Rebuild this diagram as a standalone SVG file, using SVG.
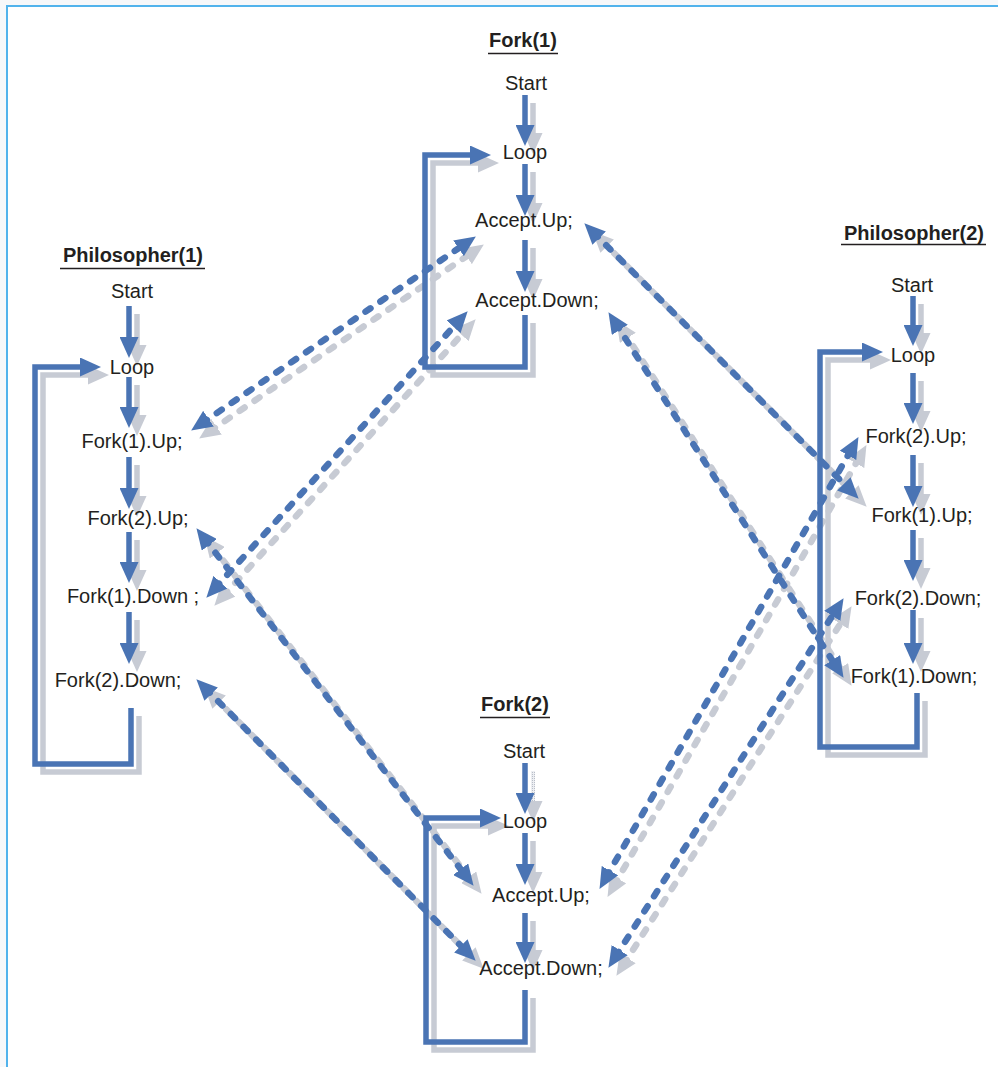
<svg xmlns="http://www.w3.org/2000/svg" width="998" height="1067" viewBox="0 0 998 1067">
<style>
.b{fill:none;stroke:#4a74b4;stroke-width:5.5}
.g{fill:none;stroke:#c7cbd4;stroke-width:5.5}
.b.a{marker-end:url(#ab)}
.g.a{marker-end:url(#ag)}
.d{stroke-width:6.5;stroke-dasharray:6 12;stroke-linecap:round}
.b.d{marker-start:url(#ab);marker-end:url(#ab)}
.g.d{marker-start:url(#ag);marker-end:url(#ag)}
.t{font-family:"Liberation Sans",Arial,sans-serif;font-size:20px;fill:#231f20;text-anchor:middle}
.h{font-weight:bold}
.u{stroke:#231f20;stroke-width:1.6}
</style>
<defs>
<marker id="ab" markerUnits="userSpaceOnUse" markerWidth="21" markerHeight="19" viewBox="0 0 21 19" refX="8" refY="9.5" orient="auto-start-reverse"><path d="M0,0L21,9.5L0,19z" fill="#4a74b4"/></marker>
<marker id="ag" markerUnits="userSpaceOnUse" markerWidth="21" markerHeight="19" viewBox="0 0 21 19" refX="8" refY="9.5" orient="auto-start-reverse"><path d="M0,0L21,9.5L0,19z" fill="#c7cbd4"/></marker>
<pattern id="hatch" patternUnits="userSpaceOnUse" width="2" height="2"><rect width="2" height="2" fill="#eceef2"/><rect width="1" height="1" fill="#b9bec8"/></pattern>
</defs>
<rect x="0" y="0" width="998" height="6" fill="#f7f8fa"/>
<rect x="0" y="0" width="7" height="1067" fill="#f7f8fa"/>
<path d="M7,1067V6H998" fill="none" stroke="#52b3ec" stroke-width="2"/>
<g id="connectors">
<g id="shadows" transform="translate(8,8)">
<path class="g a" d="M525,95V133"/>
<path class="g a" d="M525,164V203"/>
<path class="g a" d="M525,240V279"/>
<path class="g a" d="M525,315V367H425V155H478"/>
<path class="g a" d="M129,306V345"/>
<path class="g a" d="M129,377V415"/>
<path class="g a" d="M129,457V496"/>
<path class="g a" d="M129,532V570"/>
<path class="g a" d="M129,612V651"/>
<path class="g a" d="M131,708V764H35V367H88"/>
<path class="g a" d="M913,296V333"/>
<path class="g a" d="M913,373V411"/>
<path class="g a" d="M913,455V494"/>
<path class="g a" d="M913,530V568"/>
<path class="g a" d="M913,610V651"/>
<path class="g a" d="M917,693V747H820V352H870"/>
<path class="g a" d="M525,763V801" style="stroke:url(#hatch);stroke-width:4"/>
<path class="g a" d="M525,833V872"/>
<path class="g a" d="M525,913V950"/>
<path class="g a" d="M525,990V1042H426V818H488"/>
<path class="g d" d="M201.9,423.2L465.1,243.8"/>
<path class="g d" d="M215.1,588.1L458.9,320.9"/>
<path class="g d" d="M204.4,538.5L465.6,875.5"/>
<path class="g d" d="M205.5,688.5L466.5,951.5"/>
<path class="g d" d="M593.5,232.5L849.5,489.5"/>
<path class="g d" d="M615.5,323.1L836.5,666.9"/>
<path class="g d" d="M606,877.6L852,448.4"/>
<path class="g d" d="M615.4,956.9L836.6,609.1"/>
</g>
<g id="lines">
<path class="b a" d="M525,95V133"/>
<path class="b a" d="M525,164V203"/>
<path class="b a" d="M525,240V279"/>
<path class="b a" d="M525,315V367H425V155H478"/>
<path class="b a" d="M129,306V345"/>
<path class="b a" d="M129,377V415"/>
<path class="b a" d="M129,457V496"/>
<path class="b a" d="M129,532V570"/>
<path class="b a" d="M129,612V651"/>
<path class="b a" d="M131,708V764H35V367H88"/>
<path class="b a" d="M913,296V333"/>
<path class="b a" d="M913,373V411"/>
<path class="b a" d="M913,455V494"/>
<path class="b a" d="M913,530V568"/>
<path class="b a" d="M913,610V651"/>
<path class="b a" d="M917,693V747H820V352H870"/>
<path class="b a" d="M525,763V801"/>
<path class="b a" d="M525,833V872"/>
<path class="b a" d="M525,913V950"/>
<path class="b a" d="M525,990V1042H426V818H488"/>
<path class="b d" d="M201.9,423.2L465.1,243.8"/>
<path class="b d" d="M215.1,588.1L458.9,320.9"/>
<path class="b d" d="M204.4,538.5L465.6,875.5"/>
<path class="b d" d="M205.5,688.5L466.5,951.5"/>
<path class="b d" d="M593.5,232.5L849.5,489.5"/>
<path class="b d" d="M615.5,323.1L836.5,666.9"/>
<path class="b d" d="M606,877.6L852,448.4"/>
<path class="b d" d="M615.4,956.9L836.6,609.1"/>
</g>
</g>
<g id="fork1">
<text class="t h" x="523" y="47">Fork(1)</text>
<line class="u" x1="488" y1="53.5" x2="558" y2="53.5"/>
<text class="t" x="526" y="90">Start</text>
<text class="t" x="525" y="159">Loop</text>
<text class="t" x="524" y="227">Accept.Up;</text>
<text class="t" x="537" y="307">Accept.Down;</text>
</g>
<g id="philosopher1">
<text class="t h" x="133" y="262">Philosopher(1)</text>
<line class="u" x1="60" y1="268.5" x2="205" y2="268.5"/>
<text class="t" x="132" y="298">Start</text>
<text class="t" x="132" y="374">Loop</text>
<text class="t" x="132" y="448">Fork(1).Up;</text>
<text class="t" x="138" y="525">Fork(2).Up;</text>
<text class="t" x="133" y="603">Fork(1).Down ;</text>
<text class="t" x="118" y="687">Fork(2).Down;</text>
</g>
<g id="philosopher2">
<text class="t h" x="914" y="240">Philosopher(2)</text>
<line class="u" x1="841" y1="244.5" x2="986" y2="244.5"/>
<text class="t" x="912" y="292">Start</text>
<text class="t" x="913" y="362">Loop</text>
<text class="t" x="916" y="443">Fork(2).Up;</text>
<text class="t" x="922" y="522">Fork(1).Up;</text>
<text class="t" x="918" y="605">Fork(2).Down;</text>
<text class="t" x="914" y="683">Fork(1).Down;</text>
</g>
<g id="fork2">
<text class="t h" x="515" y="711">Fork(2)</text>
<line class="u" x1="480" y1="717.5" x2="550" y2="717.5"/>
<text class="t" x="524" y="758">Start</text>
<text class="t" x="525" y="828">Loop</text>
<text class="t" x="541" y="902">Accept.Up;</text>
<text class="t" x="541" y="975">Accept.Down;</text>
</g>
</svg>
